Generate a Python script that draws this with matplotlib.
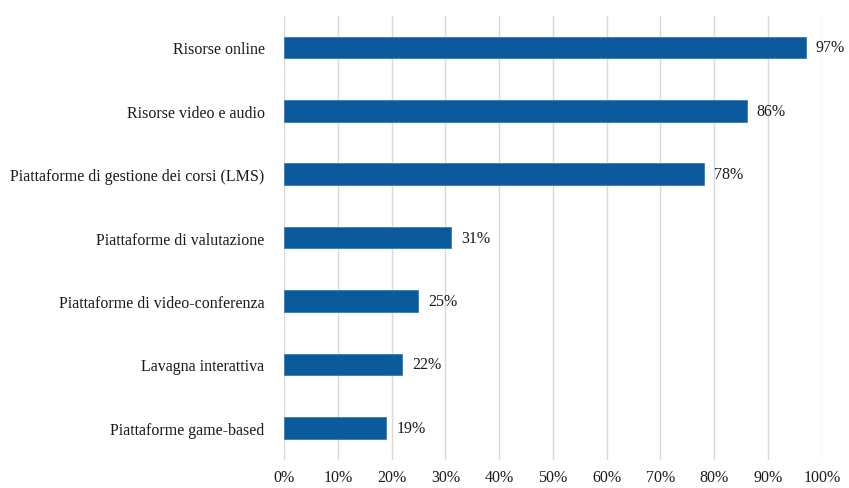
import matplotlib
matplotlib.use('Agg')
from matplotlib import pyplot as plt
import numpy as np

matplotlib.rc('font', family='Liberation Serif', size=11.5)

categorie = [
    'Risorse online',
    'Risorse video e audio',
    'Piattaforme di gestione dei corsi (LMS)',
    'Piattaforme di valutazione',
    'Piattaforme di video-conferenza',
    'Lavagna interattiva',
    'Piattaforme game-based',
]
percentuali = [97, 86, 78, 31, 25, 22, 19]
tick_x = [0, 10, 20, 30, 40, 50, 60, 70, 80, 90, 100]

fig = plt.figure(figsize=(8.49, 4.89), dpi=100)
ax = fig.add_axes([0.3345, 0.058, 0.968 - 0.3345, 0.966 - 0.058])

pos = np.arange(len(categorie))[::-1]
ax.barh(pos, percentuali, height=0.34, color='#0b5a9c', edgecolor='#3d7bb3',
        linewidth=0.6, zorder=3)

for y, v in zip(pos, percentuali):
    ax.text(v + 1.9, y, str(v) + '%', va='center', ha='left', fontsize=11.5,
            color='#1a1a1a')

ax.set_xlim(0, 100)
ax.set_ylim(-0.5, 6.5)
ax.set_xticks(tick_x)
ax.set_xticklabels([str(t) + '%' for t in tick_x])
ax.set_yticks(pos)
ax.set_yticklabels(categorie)
ax.tick_params(axis='both', length=0, colors='#1a1a1a')
ax.tick_params(axis='y', pad=14)
ax.tick_params(axis='x', pad=7)

ax.grid(axis='x', color='#d9d9d9', linewidth=1, zorder=0)
for s in ax.spines.values():
    s.set_visible(False)

plt.savefig('out.png', dpi=100)
plt.close()
